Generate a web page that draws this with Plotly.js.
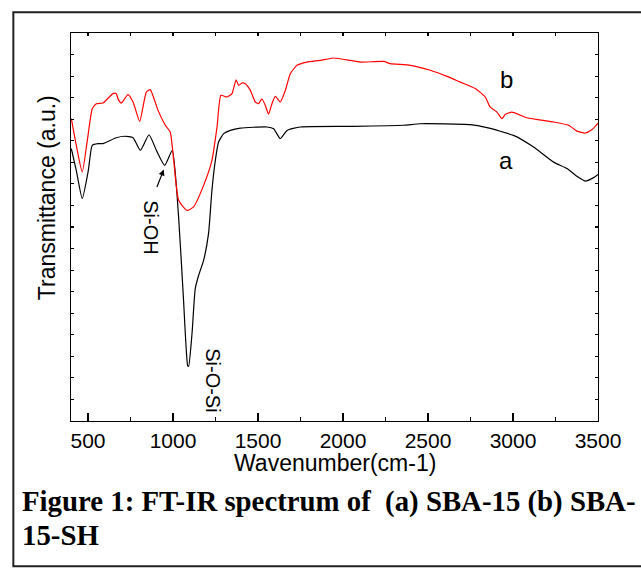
<!DOCTYPE html>
<html>
<head>
<meta charset="utf-8">
<script src="https://cdn.plot.ly/plotly-3.0.1.min.js"></script>
<style>html,body{margin:0;padding:0;background:#fff;}#chart{width:641px;height:568px;}</style>
</head>
<body>
<div id="chart"></div>
<script>
// Curve (a) SBA-15 — wavenumber (cm-1) and transmittance (a.u.)
const waveA = [402,431,466,502,525,559,588,666,715,765,808,859,902,951,996,1033,1062,1086,1092,1112,1131,1151,1180,1209,1229,1249,1268,1298,1337,1396,1553,1592,1631,1671,1749,2043,2355,2455,2749,2847,3003,3121,3239,3318,3376,3425,3474,3500];
const transA = [12.63,11.63,10.32,11.63,12.79,12.87,12.87,13.14,13.21,13.14,12.56,13.28,12.56,11.86,12.56,9.46,5.60,2.58,2.53,4.07,6.15,6.76,7.45,8.69,10.70,12.09,12.94,13.33,13.48,13.59,13.64,13.56,13.10,13.48,13.64,13.67,13.72,13.79,13.75,13.61,13.25,12.71,12.01,11.71,11.35,11.13,11.29,11.44];

// Curve (b) SBA-15-SH
const waveB = [402,431,466,496,525,549,588,647,666,678,696,735,765,804,843,866,912,955,984,1004,1033,1082,1121,1180,1229,1259,1282,1318,1347,1371,1386,1406,1425,1455,1484,1503,1523,1543,1562,1582,1602,1631,1661,1690,1729,1788,1866,1945,2043,2102,2239,2278,2396,2513,2612,2690,2778,2837,2866,2906,2935,2955,2994,3082,3239,3327,3376,3425,3465,3500];
const transB = [14.03,12.79,11.55,13.02,14.49,14.72,14.75,15.19,15.19,14.92,14.75,15.14,14.80,13.90,15.26,15.37,14.41,13.72,13.40,12.09,10.24,9.77,9.93,10.93,12.09,13.64,15.11,15.03,15.19,15.83,15.57,15.68,15.65,15.34,14.80,14.72,14.95,14.64,14.23,14.72,15.06,14.80,15.34,16.11,16.50,16.65,16.73,16.84,16.73,16.65,16.68,16.58,16.50,16.27,15.99,15.72,15.42,15.03,14.56,14.33,14.03,14.23,14.33,14.07,13.87,13.72,13.45,13.36,13.52,13.82];

const xTicks = [500,1000,1500,2000,2500,3000,3500];
const xTickText = ['500','1000','1500','2000','2500','3000','3500'];

const sans = 'Liberation Sans, Arial, sans-serif';
const serif = 'Liberation Serif, Times New Roman, serif';

const traces = [
  {x: waveA, y: transA, type: 'scatter', mode: 'lines', line: {color: '#000000', width: 1.2, shape: 'spline', smoothing: 0.5}, hoverinfo: 'skip', showlegend: false},
  {x: waveB, y: transB, type: 'scatter', mode: 'lines', line: {color: '#ff0000', width: 1.2, shape: 'spline', smoothing: 0.5}, hoverinfo: 'skip', showlegend: false},
  {x: [400], y: [0], xaxis: 'x2', type: 'scatter', mode: 'markers', marker: {opacity: 0}, hoverinfo: 'skip', showlegend: false}
];

const layout = {
  width: 641, height: 568,
  margin: {l: 70.7, r: 42.7, t: 32.7, b: 147.3},
  paper_bgcolor: '#ffffff', plot_bgcolor: '#ffffff',
  font: {family: sans, color: '#000'},
  showlegend: false,
  xaxis: {
    range: [400, 3500], tickvals: xTicks, ticktext: xTickText,
    ticks: 'inside', ticklen: 8, tickwidth: 1.2, tickcolor: '#000',
    minor: {dtick: 250, tick0: 250, ticks: 'inside', ticklen: 4, tickwidth: 1.2, tickcolor: '#000', showgrid: false},
    showline: true, linecolor: '#000', linewidth: 1.3, mirror: true,
    showgrid: false, zeroline: false,
    tickfont: {family: sans, size: 21, color: '#000'}
  },
  xaxis2: {
    range: [400, 3500], overlaying: 'x', side: 'top', dtick: 250, tick0: 250,
    ticks: 'inside', ticklen: 3, tickwidth: 1.2, tickcolor: '#000',
    showticklabels: false, showgrid: false, zeroline: false, showline: false
  },
  yaxis: {
    range: [0, 18], dtick: 1, tick0: 0,
    ticks: 'inside', ticklen: 3, tickwidth: 1.2, tickcolor: '#000',
    showticklabels: false, showline: true, linecolor: '#000', linewidth: 1.3, mirror: 'ticks',
    showgrid: false, zeroline: false
  },
  shapes: [
    {type: 'rect', xref: 'paper', yref: 'paper', x0: -0.1094, x1: 1.09, y0: -0.3745, y1: 1.0534,
     line: {color: '#222', width: 2}, fillcolor: 'rgba(0,0,0,0)'}
  ],
  annotations: [
    {xref: 'paper', yref: 'paper', x: -0.045, y: 0.575, text: 'Transmittance (a.u.)', textangle: -90, showarrow: false,
     xanchor: 'center', yanchor: 'middle', font: {family: sans, size: 23, color: '#000'}},
    {xref: 'paper', yref: 'paper', x: 0.5, y: -0.109, text: 'Wavenumber(cm-1)', showarrow: false,
     xanchor: 'center', yanchor: 'middle', font: {family: sans, size: 23, color: '#000'}},
    {xref: 'x', yref: 'y', x: 2960, y: 15.85, text: 'b', showarrow: false, xanchor: 'center', yanchor: 'middle',
     font: {family: sans, size: 24, color: '#000'}},
    {xref: 'x', yref: 'y', x: 2960, y: 12.09, text: 'a', showarrow: false, xanchor: 'center', yanchor: 'middle',
     font: {family: sans, size: 24, color: '#000'}},
    {xref: 'x', yref: 'y', x: 866, y: 8.98, text: 'Si-OH', textangle: 90, showarrow: false, xanchor: 'center', yanchor: 'middle',
     font: {family: sans, size: 20, color: '#000'}},
    {xref: 'x', yref: 'y', x: 1231, y: 1.88, text: 'Si-O-Si', textangle: 90, showarrow: false, xanchor: 'center', yanchor: 'middle',
     font: {family: sans, size: 20, color: '#000'}},
    {xref: 'x', yref: 'y', axref: 'x', ayref: 'y', x: 946, y: 11.67, ax: 902, ay: 10.79, text: '', showarrow: true,
     arrowhead: 2, arrowsize: 1, arrowwidth: 1.2, arrowcolor: '#000'},
    {xref: 'paper', yref: 'paper', x: -0.0961, y: -0.207, text: '<b>Figure 1: FT-IR spectrum of  (a) SBA-15 (b) SBA-</b>', showarrow: false,
     xanchor: 'left', yanchor: 'middle', font: {family: serif, size: 28.8, color: '#000'}},
    {xref: 'paper', yref: 'paper', x: -0.0961, y: -0.2946, text: '<b>15-SH</b>', showarrow: false,
     xanchor: 'left', yanchor: 'middle', font: {family: serif, size: 28.8, color: '#000'}}
  ]
};

Plotly.newPlot('chart', traces, layout, {staticPlot: true, displayModeBar: false});
</script>
</body>
</html>
